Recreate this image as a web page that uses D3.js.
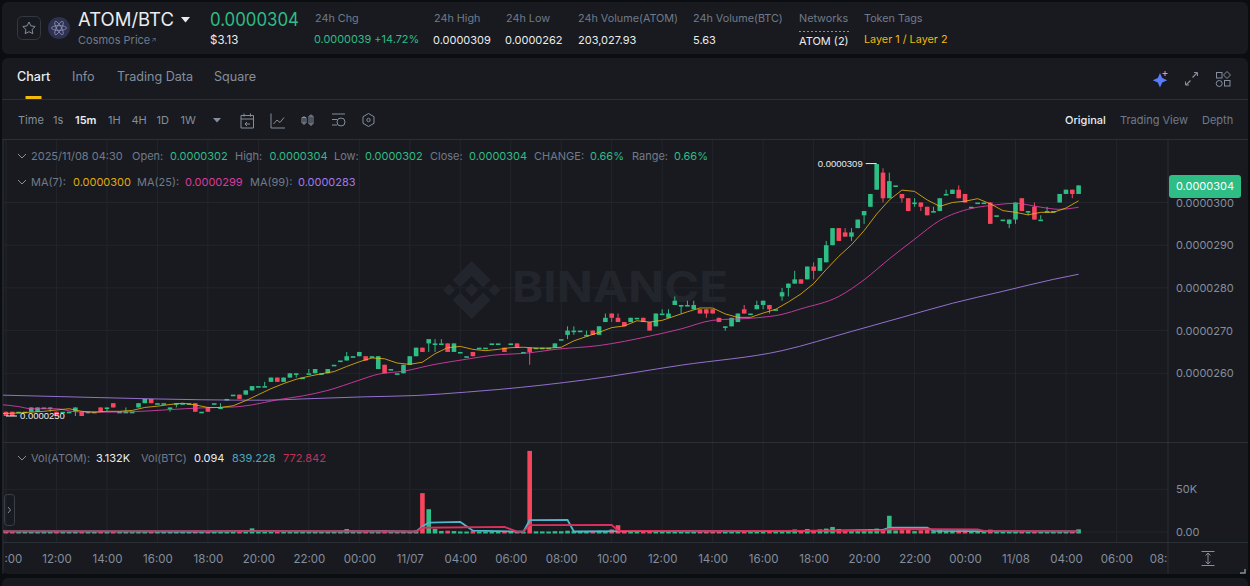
<!DOCTYPE html>
<html>
<head>
<meta charset="utf-8">
<title>ATOM/BTC</title>
<script src="https://cdn.jsdelivr.net/npm/d3@7"></script>
<style>
  html, body { margin: 0; padding: 0; background: #0b0e11; overflow: hidden; }
  text { font-family: Inter, "Noto Sans", sans-serif; }
</style>
</head>
<body>
<svg id="chart" width="1250" height="586"></svg>
<script>
// prices are kept in units of 0.0000001
const opens = [
  251,251,251,251,251,251,252,252,251,251,
  251,251,251,251,251,252,252,253,251,251,
  251,252,253,254,253,253,252,253,253,253,
  253,251,252,253,252,254,255,255,255,256,
  257,257,258,259,258,259,260,259,260,260,
  260,260,262,263,263,264,264,264,264,261,
  262,261,260,260,262,264,266,267,267,267,
  267,265,265,264,265,266,266,267,267,266,
  267,267,265,266,266,266,266,266,268,269,
  270,270,269,270,269,272,274,273,272,272,
  273,273,272,271,274,273,276,276,276,275,
  275,275,275,273,271,271,272,275,274,275,
  276,276,275,278,280,281,282,282,285,284,
  286,290,294,293,292,294,297,299,303,307,
  301,304,302,301,300,300,299,298,298,302,
  302,303,302,299,300,300,300,297,296,295,
  296,301,298,299,296,298,298,300,302,303,
  302];
const highs = [
  251,251,251,251,252,252,252,252,251,251,
  251,252,251,251,251,252,252,253,251,252,
  251,253,254,254,253,253,252,253,253,253,
  253,251,252,253,253,254,255,255,256,257,
  257,258,259,259,259,260,260,259,261,261,
  260,261,262,263,265,264,265,264,264,264,
  262,261,260,262,264,266,266,268,268,268,
  267,267,265,264,265,266,266,267,267,266,
  267,267,265,266,266,266,266,267,268,271,
  271,270,270,270,271,274,274,274,272,273,
  273,273,272,274,275,275,278,276,277,277,
  275,275,275,273,271,273,274,276,274,277,
  277,276,275,280,281,284,282,285,286,287,
  291,294,294,294,294,296,298,302,309,308,
  307,304,302,301,301,300,299,299,301,303,
  303,304,302,299,300,300,300,297,296,296,
  300,301,298,300,297,299,298,302,303,303,
  304];
const lows = [
  250,250,251,251,251,251,252,251,250,251,
  251,250,250,251,251,251,251,252,251,251,
  251,252,253,253,253,253,251,252,253,253,
  251,251,251,253,252,254,255,254,255,256,
  257,257,258,258,258,259,259,259,260,260,
  260,260,262,263,263,264,264,263,264,261,
  260,261,260,260,262,264,265,265,265,267,
  265,265,265,264,264,266,266,267,267,265,
  267,266,265,262,266,266,266,266,268,268,
  269,270,269,269,269,272,272,272,271,272,
  273,272,270,271,274,273,276,274,276,275,
  274,273,274,272,270,271,272,274,274,275,
  275,274,275,277,278,281,281,282,282,284,
  286,290,291,292,291,294,295,299,303,300,
  301,304,300,298,299,298,297,298,298,302,
  302,301,300,299,300,300,295,297,296,294,
  295,298,297,296,296,298,298,300,302,301,
  302];
const closes = [
  250,250,251,251,252,252,252,252,250,251,
  251,252,250,251,251,251,252,252,251,251,
  251,253,254,253,253,253,252,253,253,253,
  251,251,251,253,252,254,255,254,256,257,
  257,257,259,258,259,260,260,259,260,261,
  260,261,262,263,264,264,265,263,264,264,
  260,261,260,262,264,266,265,268,267,267,
  265,267,265,264,264,266,266,267,267,265,
  267,266,265,265,266,266,266,267,268,270,
  270,270,269,269,271,273,273,272,271,273,
  273,272,270,274,274,274,277,276,276,276,
  274,274,274,272,271,273,274,274,274,276,
  277,275,275,279,281,282,281,285,284,287,
  290,294,291,292,293,296,298,302,309,301,
  305,304,301,298,300,299,297,298,301,302,
  303,301,300,299,300,300,295,297,296,296,
  300,298,298,296,296,298,298,302,303,302,
  304];
const volumes = [
  900,800,600,500,1100,900,400,500,800,700,
  500,1400,1000,500,600,1200,800,1100,500,400,
  600,1400,1300,1100,500,400,500,500,400,300,
  1500,400,900,800,600,900,1100,1300,1400,4300,
  600,500,900,800,800,900,500,400,500,900,
  400,900,500,800,3500,600,900,1000,400,1500,
  1800,500,700,1400,1200,2000,45500,26700,3500,1200,
  1500,1100,600,500,1000,700,500,600,400,800,
  900,1000,300,95000,800,700,600,1000,900,1500,
  1000,700,800,1300,1500,1200,3000,8000,1500,1000,
  800,900,1200,1800,900,800,1500,900,700,1000,
  900,1000,800,1200,900,1500,1400,1000,500,1200,
  1400,1000,500,2000,2400,3000,1600,3500,2000,3000,
  4000,5900,3500,1500,1200,2600,2000,3000,4000,3000,
  19000,1800,2200,2600,1000,2000,2500,900,2500,900,
  1400,1800,2000,700,600,500,2800,600,700,1000,
  1500,1500,500,1300,500,600,400,1200,1000,700,
  3132];

// moving averages, one value every second candle from slot -2
const ma7 = [
  250.5,250.6,250.7,250.9,251.1,251.4,251.7,251.1,250.9,251.1,
  251.1,251.3,252,252.3,252.7,253,252.6,252,252,252.4,
  253.6,255,256.4,257.6,258.6,259.3,259.9,260.4,261.6,262.7,
  263.6,263.4,262.4,262.1,262.6,264.6,266,266.3,265.6,265.3,
  265.6,266,266.1,265.9,265.9,266.1,267.6,268.6,269.6,270.7,
  271.1,272.3,272,272.4,273.4,274.4,275.3,275.3,273.9,273.1,
  273.1,274.1,275,276.7,278.6,281,284.3,287.4,290.1,293.4,
  297.3,300.6,302.9,302.6,300.6,299.1,300,300.3,300.9,299.7,
  298.1,297.7,297.1,297.7,297.7,298.7,300.4];
const ma25Slots = [-1,2,4,8,11,15,20,26,31,36,39,43,47,51,56,59,63,68,73,77,83,87,94,102,107,112,119,123,126,132,136,140,144,148,153,156,160,164,167,170];
const ma25 = [252.7,252.2,251.7,251.7,251,250.9,251,251.5,251.9,252.1,252.6,253.8,254.7,256,258.4,259.8,260.5,262.1,263.3,264.2,264.8,265.6,266.5,268.7,270.4,272.4,273,273.8,275.1,278,281.9,286.8,291.4,295.8,298.6,299.3,299.8,298.9,298.4,298.9];
const ma99Slots = [-1,15,31,41,47,57,65,73,78,92,107,123,134,142,150,158,166,170];
const ma99 = [254.9,254.3,253.8,253.7,254,254.5,254.8,255.6,256.2,258.5,261.9,265.3,269.8,273.1,276.4,279.2,282,283.2];

const volBlueSlots = [-1,10,20,30,40,50,60,65,66,67,72,74,82,83,89,90,100,110,120,130,139,140,146,147,160,170];
const volBlue = [700,800,700,600,1100,800,900,500,6500,11000,11800,1500,300,14000,14100,600,1000,900,1000,1500,2500,5000,5000,1400,800,839];
const volRedSlots = [-1,20,40,65,66,79,81,82,83,96,97,110,139,140,154,155,170];
const volRed = [800,700,1000,600,5000,5900,500,400,8000,8200,1500,1000,1700,3500,3000,1200,773];

const priceTicks = [260, 270, 280, 290, 300];
const volumeTicks = [0, 50000];

const UP = '#2ebd85', DOWN = '#f6465d', GOLD = '#f0b90b';
const GRID = '#22252c', EDGE = '#2b2f36';
const MUTED = '#707a8a', SOFT = '#848e9c', WHITE = '#eaecef';

const startTime = new Date(2025, 10, 6, 10, 0);
const slotTime = i => d3.timeMinute.offset(startTime, i * 15);

const x = d3.scaleTime().domain([slotTime(0), slotTime(170)]).range([6, 1078.6]);
const y = d3.scaleLinear().domain([260, 300]).range([373.3, 202.5]);
const yVol = d3.scaleLinear().domain([0, 50000]).range([532, 489.3]);

const svg = d3.select('#chart');

function label (parent, px, py, str, color, size, weight) {
  return parent.append('text')
    .attr('x', px).attr('y', py)
    .attr('dominant-baseline', 'middle')
    .attr('fill', color)
    .attr('font-size', size || 11)
    .attr('font-weight', weight || 400)
    .text(str);
}

// page panels
svg.append('rect').attr('width', 1250).attr('height', 586).attr('fill', '#0b0e11');
svg.append('rect').attr('x', 2).attr('y', 2).attr('width', 1246).attr('height', 52).attr('rx', 6).attr('fill', '#181a20');
svg.append('rect').attr('x', 2).attr('y', 58).attr('width', 1246).attr('height', 516).attr('rx', 6).attr('fill', '#181a20');
svg.append('rect').attr('x', 2).attr('y', 578).attr('width', 1246).attr('height', 20).attr('rx', 6).attr('fill', '#181a20');

// header strip
const head = svg.append('g');
head.append('rect').attr('x', 17.5).attr('y', 16.5).attr('width', 23).attr('height', 23).attr('rx', 5)
  .attr('fill', 'none').attr('stroke', '#333943');
head.append('path')
  .attr('d', 'M29 22l1.9 3.9 4.3.6-3.1 3 .7 4.2-3.8-2-3.8 2 .7-4.2-3.1-3 4.3-.6z')
  .attr('fill', 'none').attr('stroke', SOFT);
head.append('circle').attr('cx', 59).attr('cy', 28).attr('r', 11).attr('fill', '#2e3150');
head.append('g').attr('transform', 'translate(59,28)').selectAll('ellipse')
  .data([0, 60, 120]).enter().append('ellipse')
  .attr('rx', 7.5).attr('ry', 2.4)
  .attr('transform', d => `rotate(${d})`)
  .attr('fill', 'none').attr('stroke', '#8f93b8').attr('stroke-width', 0.8);
label(head, 78, 20.5, 'ATOM/BTC', WHITE, 18.5, 400).attr('textLength', 96).attr('lengthAdjust', 'spacingAndGlyphs');
head.append('path').attr('d', 'M181 17h9l-4.5 5.5z').attr('fill', WHITE);
label(head, 78, 40.5, 'Cosmos Price', MUTED, 11);
label(head, 151, 40, '↗', MUTED, 7);
label(head, 210, 20.5, '0.0000304', UP, 18.5, 400).attr('textLength', 89).attr('lengthAdjust', 'spacingAndGlyphs');
label(head, 210, 40.5, '$3.13', WHITE, 11.5);

const statNames = ['24h Chg', '24h High', '24h Low', '24h Volume(ATOM)', '24h Volume(BTC)', 'Networks', 'Token Tags'];
const statX = [315, 434, 506, 578, 693, 799, 864];
statNames.forEach((d, i) => label(head, statX[i], 19.5, d, MUTED, 10.8));
label(head, 314, 40.5, '0.0000039 +14.72%', UP, 10.9);
label(head, 433, 40.5, '0.0000309', WHITE, 11);
label(head, 505, 40.5, '0.0000262', WHITE, 11);
label(head, 578, 40.5, '203,027.93', WHITE, 11);
label(head, 693, 40.5, '5.63', WHITE, 11);
label(head, 799, 42, 'ATOM (2)', WHITE, 11);
head.append('line').attr('x1', 799).attr('x2', 849).attr('y1', 31.5).attr('y2', 31.5)
  .attr('stroke', SOFT).attr('stroke-dasharray', '2 2');
label(head, 864, 40.5, 'Layer 1 / Layer 2', GOLD, 10.8);

// tabs
const tabNames = ['Chart', 'Info', 'Trading Data', 'Square'];
const tabX = [17, 72, 117, 214];
tabNames.forEach((d, i) => label(svg, tabX[i], 78, d, i === 0 ? WHITE : SOFT, 12.6, i === 0 ? 500 : 400));
svg.append('rect').attr('x', 25.5).attr('y', 96).attr('width', 16).attr('height', 3).attr('fill', GOLD);
svg.append('line').attr('x1', 2).attr('x2', 1248).attr('y1', 99.5).attr('y2', 99.5).attr('stroke', EDGE);
svg.append('line').attr('x1', 2).attr('x2', 1248).attr('y1', 139.5).attr('y2', 139.5).attr('stroke', EDGE);

// tab icons on the right
const tools = svg.append('g').attr('fill', 'none').attr('stroke', SOFT);
tools.append('path').attr('d', 'M1160 73l2.2 5 5 2.2-5 2.2-2.2 5-2.2-5-5-2.2 5-2.2z').attr('fill', '#5b7cfa').attr('stroke', 'none');
tools.append('path').attr('d', 'M1165 71v5M1162.500 73.500h5').attr('stroke', '#e58fd8');
tools.append('path').attr('d', 'M1197 73l-4.500 4.500M1186 85l4.500-4.500').attr('stroke-width', 1.2);
tools.append('path').attr('d', 'M1194 72.500h3.500v3.500M1185.500 81.500v3.500h3.500');
tools.append('rect').attr('x', 1216.500).attr('y', 72.500).attr('width', 5.500).attr('height', 5.500);
tools.append('path').attr('d', 'M1227 71.500l3.500 3.500-3.500 3.500-3.500-3.500z');
tools.append('circle').attr('cx', 1219.200).attr('cy', 83.500).attr('r', 3);
tools.append('rect').attr('x', 1224.500).attr('y', 80.500).attr('width', 5.500).attr('height', 5.500);

// interval row
const intervalNames = ['Time', '1s', '15m', '1H', '4H', '1D', '1W'];
const intervalX = [18, 53, 75, 108, 131.5, 156.5, 180.5];
intervalNames.forEach((d, i) => label(svg, intervalX[i], 120.5, d, i === 2 ? WHITE : SOFT, 11, i === 2 ? 600 : 400));
svg.append('path').attr('d', 'M213 118h8l-4 4.500z').attr('fill', SOFT);

const rowIcons = svg.append('g').attr('fill', 'none').attr('stroke', SOFT);
rowIcons.append('path').attr('d', 'M241 115.500h12.500v12.500h-12.500zM241 119h12.500M244 113.500v3M250.500 113.500v3M250 124h-5M247 122l-2 2 2 2');
rowIcons.append('path').attr('d', 'M271 113.500v14.500h14M273.500 124l3.500-4 3 2.500 4-5');
rowIcons.append('path').attr('d', 'M304 116v9M311 114.500v11.500M302 117.500h4v5.500h-4zM309 116h4v8h-4z');
rowIcons.append('path').attr('d', 'M332 114h13M332 119.500h5M332 125h5');
rowIcons.append('circle').attr('cx', 341).attr('cy', 122).attr('r', 4);
rowIcons.append('path').attr('d', 'M368.500 113.500l5.500 3.200v6.600l-5.500 3.200-5.500-3.200v-6.600z');
rowIcons.append('circle').attr('cx', 368.500).attr('cy', 120).attr('r', 1.700);

label(svg, 1065, 120.5, 'Original', WHITE, 11, 500);
label(svg, 1120, 120.5, 'Trading View', MUTED, 11);
label(svg, 1202, 120.5, 'Depth', MUTED, 11);

// grid
const gridTimes = d3.timeHour.every(2).range(slotTime(0), slotTime(190));
const gridG = svg.append('g').attr('stroke', GRID);
gridG.selectAll('line.v').data(gridTimes.filter(d => x(d) < 1166))
  .enter().append('line')
  .attr('class', 'v')
  .attr('x1', d => x(d)).attr('x2', d => x(d))
  .attr('y1', 140).attr('y2', 542);
gridG.selectAll('line.p').data(priceTicks)
  .enter().append('line')
  .attr('class', 'p')
  .attr('x1', 3).attr('x2', 1168)
  .attr('y1', d => y(d)).attr('y2', d => y(d));
gridG.selectAll('line.q').data(volumeTicks)
  .enter().append('line')
  .attr('class', 'q')
  .attr('x1', 3).attr('x2', 1168)
  .attr('y1', d => yVol(d)).attr('y2', d => yVol(d));

// watermark
const mark = svg.append('g').attr('fill', '#22252b');
mark.append('text').attr('x', 512).attr('y', 290.5)
  .attr('dominant-baseline', 'middle')
  .attr('font-size', 43).attr('font-weight', 700)
  .attr('textLength', 216).attr('lengthAdjust', 'spacingAndGlyphs')
  .text('BINANCE');
mark.append('g').attr('transform', 'translate(471.7,290)').selectAll('path')
  .data([
    'M0 -29L19 -10L11.500 -2.500L0 -14L-11.500 -2.500L-19 -10Z',
    'M0 29L19 10L11.500 2.500L0 14L-11.500 2.500L-19 10Z',
    'M0 -6.700L6.700 0L0 6.700L-6.700 0Z',
    'M-22.700 -6L-16.700 0L-22.700 6L-28.700 0Z',
    'M22.700 -6L28.700 0L22.700 6L16.700 0Z'
  ])
  .enter().append('path')
  .attr('d', d => d);

// frame lines
svg.append('line').attr('x1', 3).attr('x2', 3).attr('y1', 140).attr('y2', 574).attr('stroke', EDGE);
svg.append('line').attr('x1', 1168).attr('x2', 1168).attr('y1', 140).attr('y2', 574).attr('stroke', EDGE);
svg.append('line').attr('x1', 3).attr('x2', 1248).attr('y1', 442.5).attr('y2', 442.5).attr('stroke', EDGE);
svg.append('line').attr('x1', 3).attr('x2', 1248).attr('y1', 542.5).attr('y2', 542.5).attr('stroke', EDGE);

svg.append('clipPath').attr('id', 'plotClip').append('rect')
  .attr('x', 3).attr('y', 140).attr('width', 1165).attr('height', 434);

const plot = svg.append('g').attr('clip-path', 'url(#plotClip)');

// candles
const candles = d3.range(closes.length);
const candleColor = i => closes[i] >= opens[i] ? UP : DOWN;

plot.selectAll('line.wick').data(candles)
  .enter().append('line')
  .attr('class', 'wick')
  .attr('x1', i => x(slotTime(i))).attr('x2', i => x(slotTime(i)))
  .attr('y1', i => y(highs[i])).attr('y2', i => y(lows[i]))
  .attr('stroke', candleColor);

plot.selectAll('rect.body').data(candles)
  .enter().append('rect')
  .attr('class', 'body')
  .attr('x', i => x(slotTime(i)) - 2.3)
  .attr('width', 4.6)
  .attr('y', i => y(Math.max(opens[i], closes[i])))
  .attr('height', i => Math.max(1.6, Math.abs(y(opens[i]) - y(closes[i]))))
  .attr('fill', candleColor);

// moving averages
const pairs = (slots, vals) => vals.map((v, i) => [slots[i], v]);
const priceLine = d3.line().x(d => x(slotTime(d[0]))).y(d => y(d[1]));
const smoothLine = d3.line().x(d => x(slotTime(d[0]))).y(d => y(d[1])).curve(d3.curveMonotoneX);

plot.append('path').attr('d', smoothLine(pairs(ma99Slots, ma99)))
  .attr('fill', 'none').attr('stroke', '#b385f8').attr('stroke-opacity', 0.8).attr('stroke-width', 1);
plot.append('path').attr('d', smoothLine(pairs(ma25Slots, ma25)))
  .attr('fill', 'none').attr('stroke', '#eb40b5').attr('stroke-opacity', 0.8).attr('stroke-width', 1);
plot.append('path').attr('d', priceLine(ma7.map((v, i) => [i * 2 - 2, v])))
  .attr('fill', 'none').attr('stroke', GOLD).attr('stroke-opacity', 0.8).attr('stroke-width', 1);

// volume pane
plot.selectAll('rect.vol').data(candles)
  .enter().append('rect')
  .attr('class', 'vol')
  .attr('x', i => x(slotTime(i)) - 2.3)
  .attr('width', 4.6)
  .attr('y', i => yVol(volumes[i]))
  .attr('height', i => yVol(0) - yVol(volumes[i]) + 1.5)
  .attr('fill', candleColor);

const volLine = d3.line().x(d => x(slotTime(d[0]))).y(d => yVol(d[1]));
plot.append('path').attr('d', volLine(pairs(volBlueSlots, volBlue)))
  .attr('fill', 'none').attr('stroke', '#4fb6cf').attr('stroke-width', 1.8);
plot.append('path').attr('d', volLine(pairs(volRedSlots, volRed)))
  .attr('fill', 'none').attr('stroke', '#dc2f5c').attr('stroke-width', 1.8);

// high and low callouts
const highIdx = highs.indexOf(d3.max(highs));
const lowIdx = lows.indexOf(d3.min(lows));
plot.append('line').attr('x1', x(slotTime(highIdx)) - 11).attr('x2', x(slotTime(highIdx)))
  .attr('y1', y(highs[highIdx]) - 0.5).attr('y2', y(highs[highIdx]) - 0.5).attr('stroke', WHITE);
label(plot, x(slotTime(highIdx)) - 14, y(highs[highIdx]), (highs[highIdx] * 1e-7).toFixed(7), WHITE, 9.5)
  .attr('text-anchor', 'end').style('font-family', '"Liberation Sans"');
plot.append('line').attr('x1', x(slotTime(lowIdx))).attr('x2', x(slotTime(lowIdx)) + 11)
  .attr('y1', y(lows[lowIdx])).attr('y2', y(lows[lowIdx])).attr('stroke', WHITE);
label(plot, x(slotTime(lowIdx)) + 14, y(lows[lowIdx]), (lows[lowIdx] * 1e-7).toFixed(7), WHITE, 9.5)
  .style('font-family', '"Liberation Sans"');

// axes, the first and last labels stop at the plot edges as they do on the page
const firstTick = gridTimes[0], lastTick = gridTimes[gridTimes.length - 1];
const timeLabel = d => {
  if (+d === +firstTick) return ':00';
  if (+d === +lastTick) return '08:';
  if (d.getHours() === 2) return d3.timeFormat('%m/%d')(d);
  return d3.timeFormat('%H:%M')(d);
};
const xAxis = d3.axisBottom(x).tickValues(gridTimes).tickFormat(timeLabel).tickSize(0);
const xAxisG = svg.append('g')
  .attr('id', 'xAxisG')
  .attr('transform', 'translate(0,552)')
  .call(xAxis);
xAxisG.select('.domain').remove();
xAxisG.selectAll('text').attr('fill', SOFT).attr('font-size', 11.5).attr('font-family', 'Inter');
xAxisG.selectAll('.tick text')
  .filter(d => +d === +firstTick)
  .attr('text-anchor', 'start').attr('dx', -2);
xAxisG.selectAll('.tick text')
  .filter(d => +d === +lastTick)
  .attr('text-anchor', 'end').attr('dx', 0);

const yAxis = d3.axisRight(y).tickValues(priceTicks).tickFormat(d => (d * 1e-7).toFixed(7)).tickSize(0).tickPadding(8);
const yAxisG = svg.append('g').attr('id', 'yAxisG').attr('transform', 'translate(1168,0)').call(yAxis);
yAxisG.select('.domain').remove();
yAxisG.selectAll('text').attr('fill', SOFT).attr('font-size', 11).attr('font-family', 'Inter');

const yVolAxis = d3.axisRight(yVol).tickValues(volumeTicks).tickFormat(d => d === 0 ? '0.00' : d3.format('~s')(d).toUpperCase()).tickSize(0).tickPadding(8);
const yVolAxisG = svg.append('g').attr('id', 'yVolAxisG').attr('transform', 'translate(1168,0)').call(yVolAxis);
yVolAxisG.select('.domain').remove();
yVolAxisG.selectAll('text').attr('fill', SOFT).attr('font-size', 11).attr('font-family', 'Inter');

// last price tag
svg.append('rect').attr('x', 1169).attr('y', 175).attr('width', 72).attr('height', 23).attr('rx', 3).attr('fill', UP);
label(svg, 1205, 187, (closes[closes.length - 1] * 1e-7).toFixed(7), '#ffffff', 11).attr('text-anchor', 'middle');

// legends
function chevron (py) {
  svg.append('path').attr('d', `M18 ${py - 2}l4 4 4-4`).attr('fill', 'none').attr('stroke', SOFT);
}
chevron(156);
chevron(182);
chevron(458);

const legendOne = [
  [31, '2025/11/08 04:30', MUTED], [132, 'Open:', MUTED], [170, '0.0000302', UP],
  [235, 'High:', MUTED], [269.5, '0.0000304', UP], [334, 'Low:', MUTED], [365, '0.0000302', UP],
  [430, 'Close:', MUTED], [469, '0.0000304', UP], [534, 'CHANGE:', MUTED], [590, '0.66%', UP],
  [632, 'Range:', MUTED], [674, '0.66%', UP]
];
legendOne.forEach(d => label(svg, d[0], 156.5, d[1], d[2], 11));

const legendTwo = [
  [31, 'MA(7):', MUTED], [73, '0.0000300', '#e0ab0a'], [137, 'MA(25):', MUTED], [185, '0.0000299', '#d93a9d'],
  [250, 'MA(99):', MUTED], [298, '0.0000283', '#a678e6']
];
legendTwo.forEach(d => label(svg, d[0], 182.5, d[1], d[2], 11));

const legendVol = [
  [31, 'Vol(ATOM):', MUTED], [96, '3.132K', WHITE], [141, 'Vol(BTC)', MUTED], [194, '0.094', WHITE],
  [232, '839.228', '#4aa7bd'], [283, '772.842', '#c2315a']
];
legendVol.forEach(d => label(svg, d[0], 458.5, d[1], d[2], 11));

// pane tab and scale button
svg.append('rect').attr('x', 4.500).attr('y', 494.500).attr('width', 10).attr('height', 31).attr('rx', 3)
  .attr('fill', 'none').attr('stroke', '#3a3f48');
svg.append('path').attr('d', 'M8 507l2.500 3-2.500 3').attr('fill', 'none').attr('stroke', SOFT);
svg.append('path').attr('d', 'M1201.500 551.500h13M1201.500 565.500h13M1208 553.500v10M1205.500 555.500l2.500-2.500 2.500 2.500M1205.500 561.500l2.500 2.500 2.500-2.500')
  .attr('fill', 'none').attr('stroke', SOFT);
svg.append('path').attr('d', 'M1245 569v4h-5').attr('fill', 'none').attr('stroke', SOFT).attr('stroke-width', 1.500);
</script>
</body>
</html>
